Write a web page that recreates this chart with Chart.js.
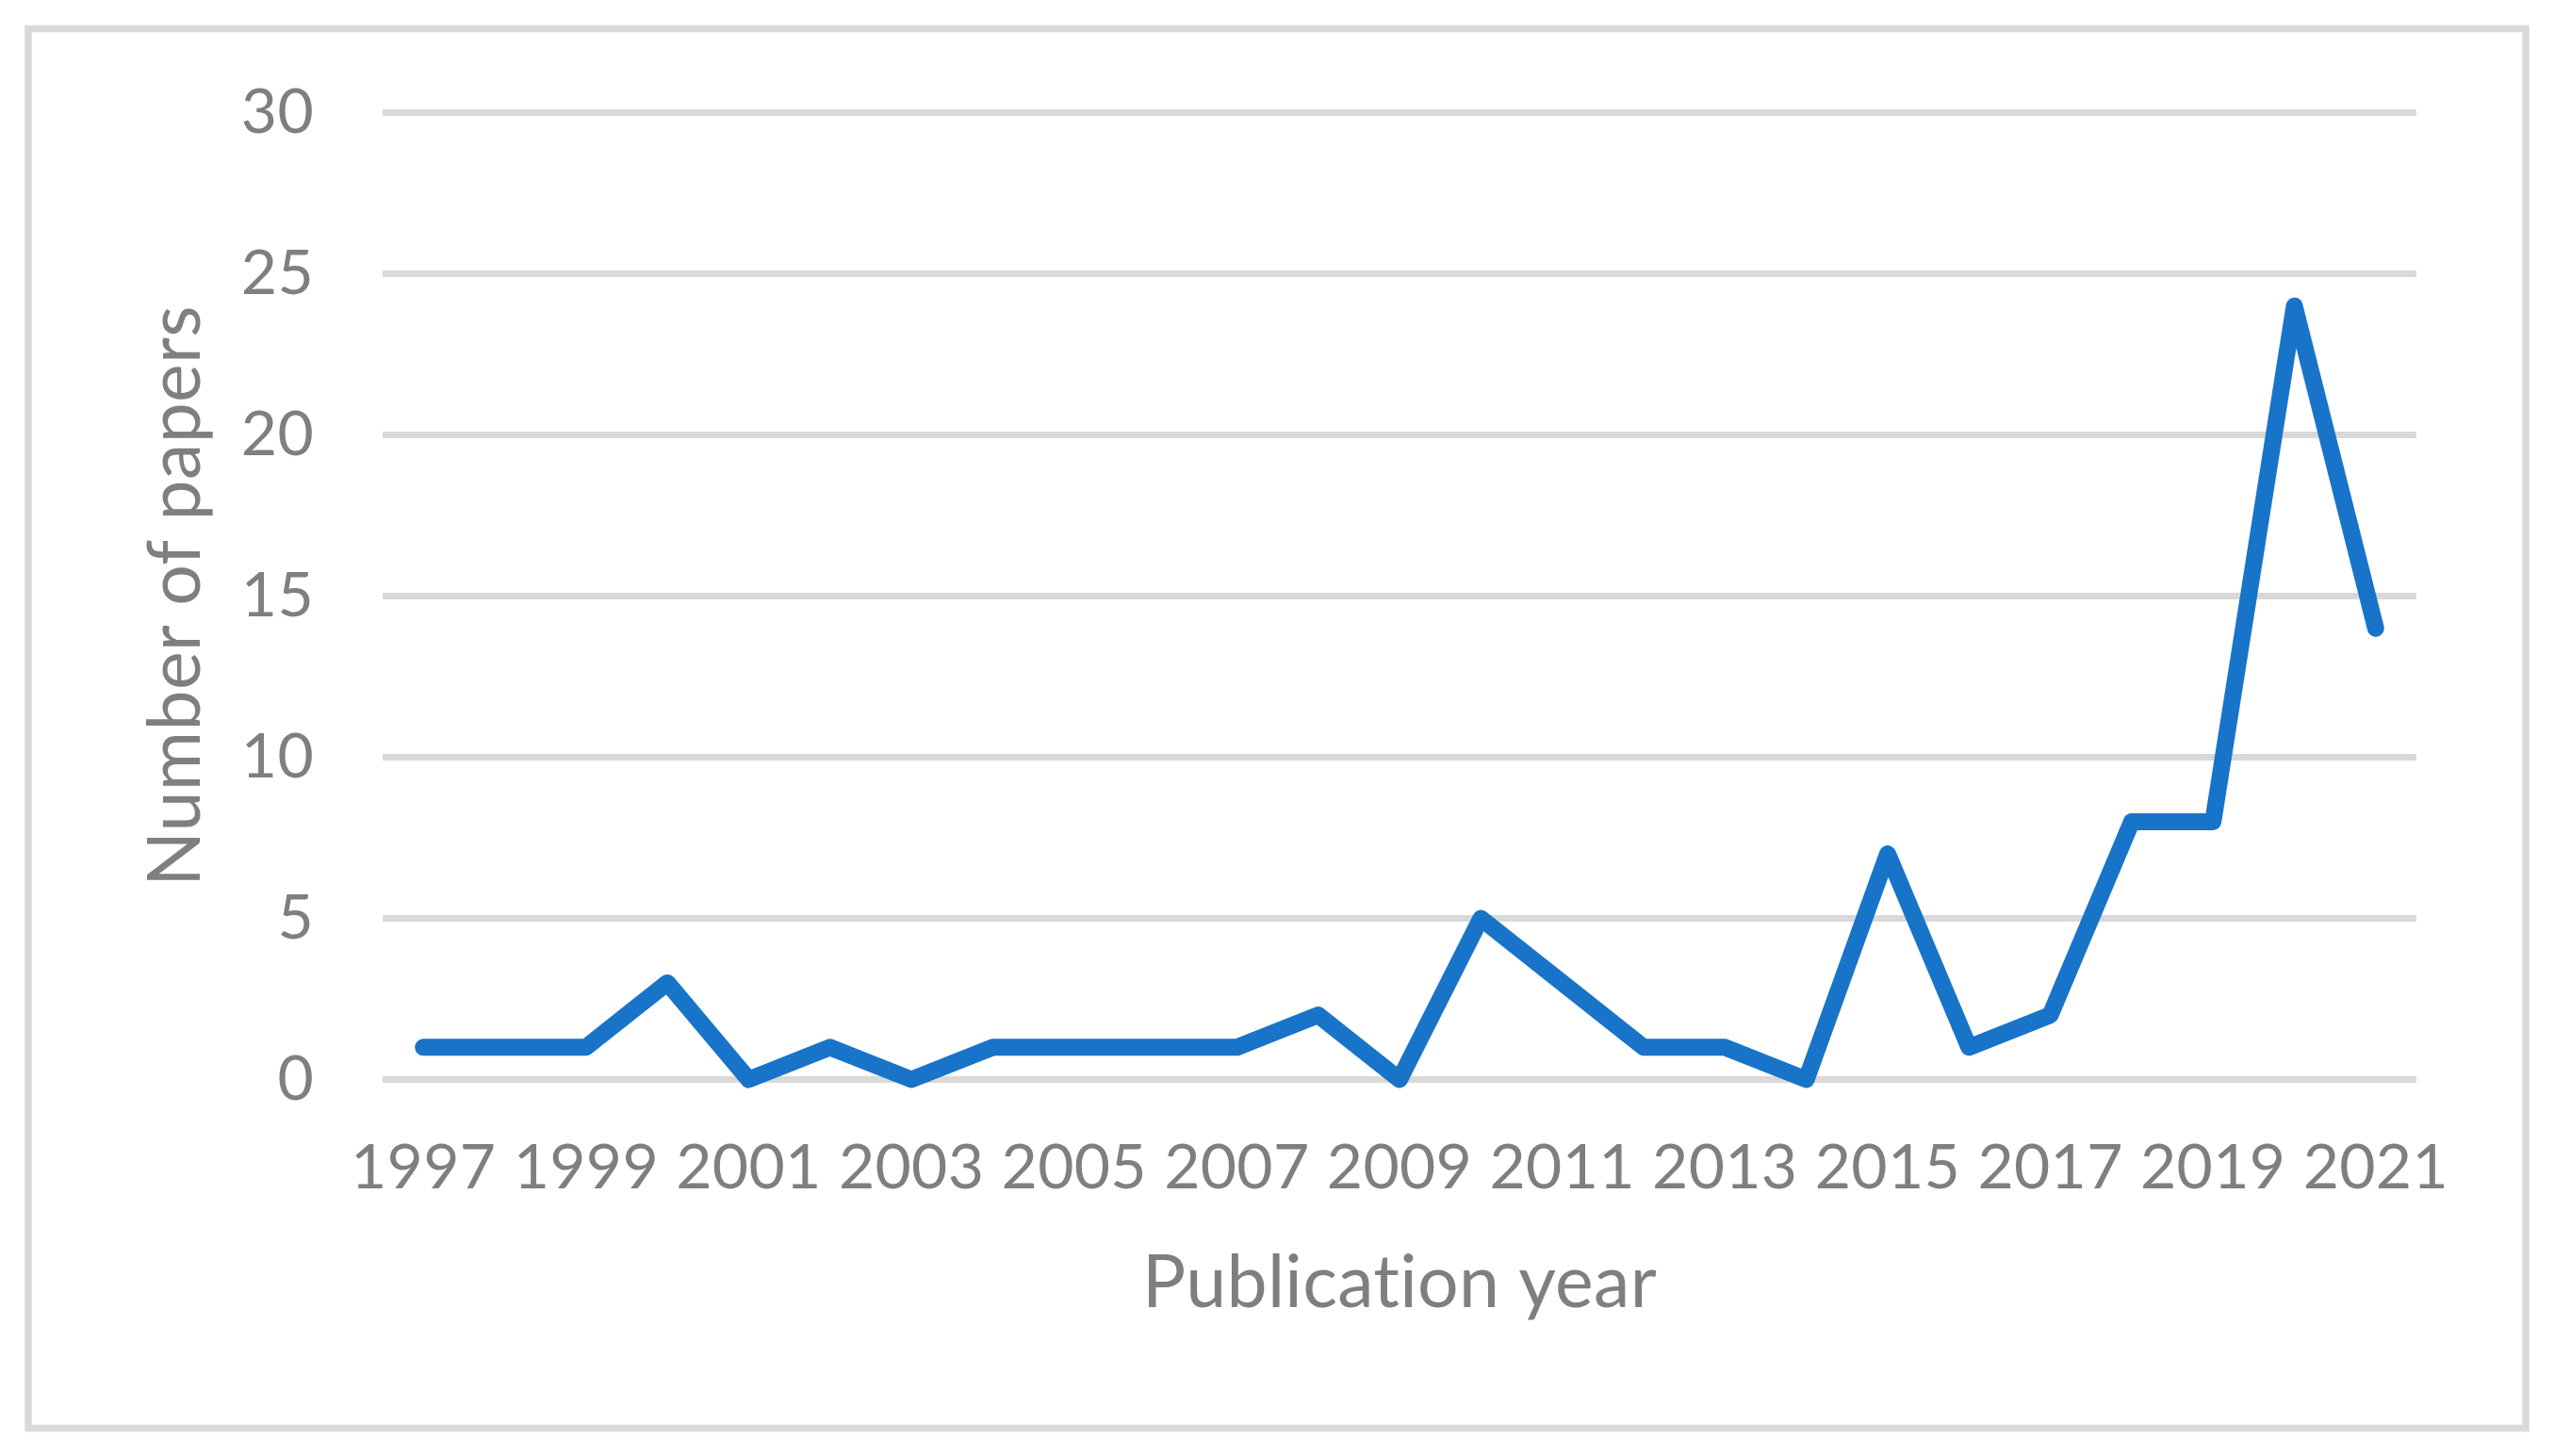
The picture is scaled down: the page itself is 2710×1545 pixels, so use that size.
<!DOCTYPE html>
<html>
<head>
<meta charset="utf-8">
<script src="https://cdn.jsdelivr.net/npm/chart.js@4/dist/chart.umd.min.js"></script>
<style>
  html, body { margin: 0; padding: 0; background: #ffffff; }
  #wrap { position: relative; width: 2710px; height: 1545px; }
  canvas { display: block; }
</style>
</head>
<body>
<div id="wrap"><canvas id="c" width="2710" height="1545"></canvas></div>
<script>
const years = ['1997','1998','1999','2000','2001','2002','2003','2004','2005','2006','2007','2008','2009','2010','2011','2012','2013','2014','2015','2016','2017','2018','2019','2020','2021'];
const papers = [1,1,1,3,0,1,0,1,1,1,1,2,0,5,3,1,1,0,7,1,2,8,8,24,14];
const yTicks = [0,5,10,15,20,25,30];
const xTitle = 'Publication year';
const yTitle = 'Number of papers';

const FONT = 'Lato, "Open Sans", sans-serif';
const GRAY = '#7f7f7f';

const noLigatures = {
  id: 'noLigatures',
  beforeInit(chart) { try { chart.ctx.letterSpacing = '0.3px'; } catch (e) {} },
  beforeLayout(chart) { try { chart.ctx.letterSpacing = '0.3px'; } catch (e) {} },
  beforeDraw(chart) { try { chart.ctx.letterSpacing = '0.3px'; } catch (e) {} }
};

const frame = {
  id: 'frame',
  beforeDraw(chart) {
    const ctx = chart.ctx;
    ctx.save();
    ctx.fillStyle = '#ffffff';
    ctx.fillRect(0, 0, chart.width, chart.height);
    ctx.strokeStyle = '#d9d9d9';
    ctx.lineWidth = 7.5;
    ctx.strokeRect(30, 30.5, 2650, 1485);
    ctx.restore();
  }
};

new Chart(document.getElementById('c'), {
  type: 'line',
  data: {
    labels: years,
    datasets: [{
      data: papers,
      borderColor: '#1874c8',
      borderWidth: 18,
      borderCapStyle: 'round',
      borderJoinStyle: 'round',
      pointRadius: 0,
      pointHoverRadius: 0,
      tension: 0,
      fill: false,
      clip: false
    }]
  },
  options: {
    responsive: false,
    animation: false,
    events: [],
    layout: { padding: { left: 40, right: 146, top: 119.5, bottom: 40 } },
    plugins: { legend: { display: false }, tooltip: { enabled: false } },
    scales: {
      x: {
        type: 'category',
        offset: true,
        grid: { display: false, drawTicks: false },
        border: { display: false },
        ticks: {
          autoSkip: false,
          maxRotation: 0,
          minRotation: 0,
          padding: 55,
          color: GRAY,
          font: { family: FONT, size: 66 },
          callback: function(v, i) { return i % 2 === 0 ? years[i] : ''; }
        },
        title: {
          display: true,
          text: xTitle,
          color: GRAY,
          font: { family: FONT, size: 77 },
          padding: { top: 0, bottom: 97 }
        },
        afterFit(scale) { scale.height = 1545 - 40 - 1145.5; }
      },
      y: {
        min: 0,
        max: 30,
        afterBuildTicks(scale) { scale.ticks = yTicks.map(v => ({ value: v })); },
        grid: { color: '#d9d9d9', lineWidth: 7, drawTicks: false },
        border: { display: false },
        ticks: {
          padding: 73,
          color: GRAY,
          font: { family: FONT, size: 66 }
        },
        title: {
          display: true,
          text: yTitle,
          color: GRAY,
          font: { family: FONT, size: 77 },
          padding: { top: 101, bottom: 0 }
        },
        afterFit(scale) { scale.width = 406 - 40; }
      }
    }
  },
  plugins: [noLigatures, frame]
});
</script>
</body>
</html>
